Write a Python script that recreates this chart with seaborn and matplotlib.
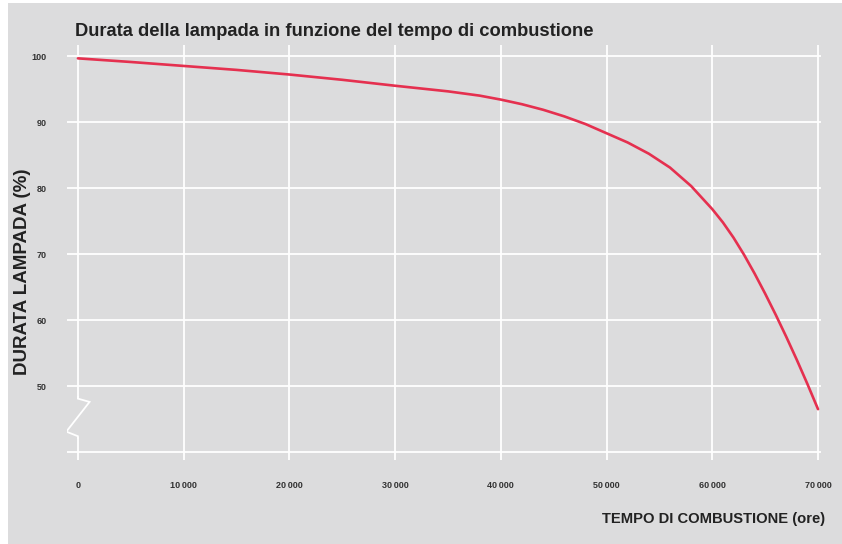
import matplotlib
matplotlib.use("Agg")
import matplotlib.pyplot as plt
import matplotlib.patches as mpatches
import seaborn as sns
import pandas as pd

# curve
ore = [0, 5000, 10000, 15000, 20000, 25000, 30000, 35000, 38000, 40000,
       42000, 44000, 46000, 48000, 50000, 52000, 54000, 56000, 58000, 60000,
       61000, 62000, 63000, 64000, 65000, 66000, 67000, 68000, 69000, 70000]
durata = [99.65, 99.1, 98.5, 97.9, 97.2, 96.4, 95.5, 94.65, 94.0, 93.4,
          92.7, 91.86, 90.86, 89.7, 88.3, 86.9, 85.2, 83.1, 80.3, 76.8,
          74.8, 72.5, 69.9, 67.05, 64.0, 60.8, 57.45, 53.95, 50.3, 46.5]

x_ticks = [0, 10000, 20000, 30000, 40000, 50000, 60000, 70000]
x_labels = ["0", "10\u2009000", "20\u2009000", "30\u2009000", "40\u2009000",
            "50\u2009000", "60\u2009000", "70\u2009000"]
y_ticks = [40, 50, 60, 70, 80, 90, 100]
y_labels = ["", "50", "60", "70", "80", "90", "100"]

TITLE = "Durata della lampada in funzione del tempo di combustione"
XLABEL = "TEMPO DI COMBUSTIONE (ore)"
YLABEL = "DURATA LAMPADA (%)"

BG = "#dcdcdd"
RED = "#e5304f"

sns.set_style("whitegrid", {"axes.facecolor": BG, "grid.color": "white"})
plt.rcParams["font.family"] = ["Liberation Sans", "DejaVu Sans"]

df = pd.DataFrame({"ore": ore, "durata": durata})

fig = plt.figure(figsize=(8.42, 5.44), dpi=100, facecolor="white")
# gray panel behind everything (white strip at left/top like the scan)
fig.patches.append(mpatches.Rectangle((8 / 842, 0), 1, 1 - 3 / 544,
                                      transform=fig.transFigure,
                                      facecolor=BG, edgecolor="none", zorder=-10))

ax = fig.add_axes([0.080, 0.1544, 0.8953, 0.762])
sns.lineplot(data=df, x="ore", y="durata", ax=ax, color=RED, linewidth=1.9, zorder=5)

ax.set_xlim(-1000, 70300)
ax.set_ylim(38.8, 101.6)
ax.set_xticks(x_ticks)
ax.set_xticklabels(x_labels, fontsize=6.5, fontweight="bold", color="#333333")
ax.set_yticks(y_ticks)
ax.set_yticklabels(y_labels, fontsize=6.5, fontweight="bold", color="#333333")
ax.tick_params(axis="both", length=0)
ax.tick_params(axis="x", pad=15)
ax.tick_params(axis="y", pad=15)
ax.grid(True, color="white", linewidth=1.3)
for s in ax.spines.values():
    s.set_visible(False)
ax.set_xlabel("")
ax.set_ylabel("")

# axis break on the y side (zigzag on the x=0 gridline)
ax.plot([0, 0], [42.6, 48.0], color=BG, linewidth=2.5, zorder=3)
ax.plot([0, 0, 1100, -1100, 0, 0], [48.4, 48.1, 47.6, 43.1, 42.4, 42.1],
        color="white", linewidth=1.3, zorder=4, solid_joinstyle="miter")

fig.text(75 / 842, 1 - 31 / 544, TITLE, fontsize=13.2, fontweight="bold",
         color="#222222", va="center", ha="left")
fig.text(825 / 842, 1 - 519 / 544, XLABEL, fontsize=10.6, fontweight="bold",
         color="#222222", va="center", ha="right")
fig.text(23 / 842, 1 - 272 / 544, YLABEL, fontsize=13.5, fontweight="bold",
         color="#222222", va="center", ha="center", rotation=90)

fig.savefig("out.png", dpi=100, facecolor="white")
